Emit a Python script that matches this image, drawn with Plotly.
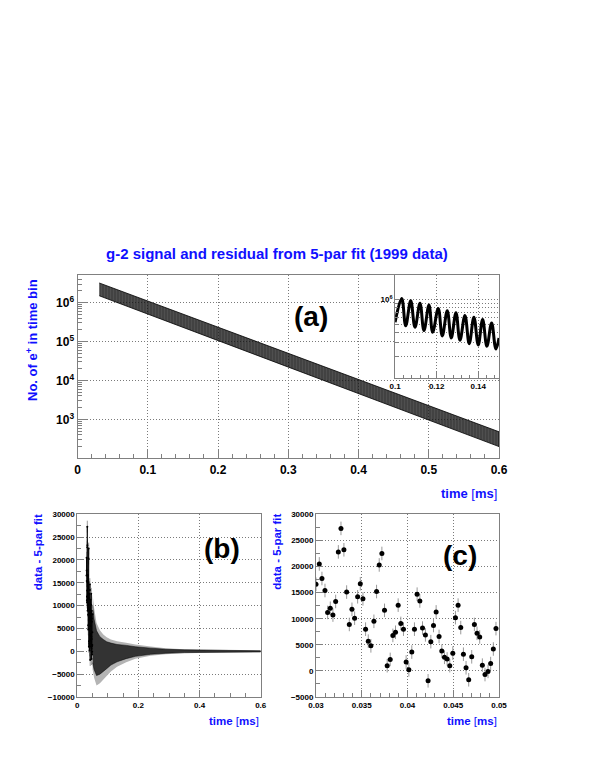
import plotly.graph_objects as go

# ---- (a) main panel: envelope of the oscillating decay band
main_t = [0.031, 0.30, 0.60]
main_hi = [3.2e6, 5.0e4, 4.8e2]
main_lo = [1.5e6, 2.2e4, 2.0e2]

# ---- inset: start, alternating peaks / troughs, end
inset_t = [0.1000, 0.10317, 0.10510, 0.10750, 0.10957, 0.11197, 0.11389, 0.11630,
           0.11808, 0.12077, 0.12269, 0.12510, 0.12702, 0.12928, 0.13120, 0.13361,
           0.13567, 0.13793, 0.14000, 0.14212, 0.14418, 0.14644, 0.14851, 0.1500]
inset_n = [5.3e5, 1.03e6, 4.8e5, 9.7e5, 4.6e5, 9.0e5, 4.2e5, 8.6e5,
           4.0e5, 7.8e5, 3.6e5, 7.3e5, 3.4e5, 6.9e5, 3.2e5, 6.4e5,
           2.9e5, 6.1e5, 2.8e5, 5.7e5, 2.7e5, 5.2e5, 2.5e5, 3.4e5]

# ---- (c) residual points 0.03 - 0.05 ms
res_t = [0.03000, 0.03036, 0.03065, 0.03098, 0.03127, 0.03156, 0.03185, 0.03215, 0.03244,
         0.03273, 0.03305, 0.03335, 0.03364, 0.03393, 0.03422, 0.03455, 0.03484, 0.03513,
         0.03542, 0.03571, 0.03600, 0.03633, 0.03662, 0.03691, 0.03720, 0.03749, 0.03778,
         0.03811, 0.03840, 0.03869, 0.03898, 0.03927, 0.03956, 0.03985, 0.04015, 0.04047,
         0.04076, 0.04105, 0.04135, 0.04164, 0.04196, 0.04225, 0.04255, 0.04284, 0.04313,
         0.04345, 0.04375, 0.04404, 0.04433, 0.04462, 0.04495, 0.04524, 0.04553, 0.04582,
         0.04611, 0.04640, 0.04669, 0.04702, 0.04731, 0.04760, 0.04789, 0.04818, 0.04847,
         0.04880, 0.04909, 0.04938, 0.04967]
res_v = [16600, 20500, 17700, 15400, 11200, 12000, 10700, 13300, 22800,
         27300, 23200, 15100, 8900, 11800, 10100, 14200, 16700, 13800,
         8000, 5700, 4800, 9500, 15200, 20300, 22500, 11600, 1000,
         2200, 6800, 7400, 12600, 9100, 8000, 1700, 200, 3600,
         8000, 14700, 13400, 8200, 6900, -1900, 5600, 8700, 11300,
         6600, 3800, 2600, 2300, 1000, 3400, 10200, 12600, 8300,
         3200, 600, -1700, 2700, 8900, 7200, 6500, 1100, -700,
         -100, 1400, 4200, 8100]
res_err = 1300

# ---- (b) extent of the residual cloud after 0.05 ms
b_t = [0.050, 0.055, 0.063, 0.074, 0.085, 0.096, 0.11, 0.13, 0.16, 0.19, 0.24, 0.29,
       0.35, 0.40, 0.50, 0.60]
b_hi = [10000, 7000, 4500, 3200, 2600, 2100, 1800, 1500, 1300, 1000, 700, 450,
        320, 260, 180, 130]
b_lo = [-2500, -4000, -5300, -5000, -4400, -3800, -3000, -2300, -1600, -1100, -650, -420,
        -280, -220, -170, -130]
b_err_hi = [12500, 9500, 6200, 4600, 3700, 3100, 2600, 2200, 1900, 1500, 1050, 680,
            480, 380, 270, 200]
b_err_lo = [-4000, -5800, -7500, -7000, -6200, -5400, -4400, -3400, -2400, -1650, -980, -640,
            -420, -320, -240, -190]

main_ticks = [1e3, 1e4, 1e5, 1e6]
main_ticktext = ['10<sup>3</sup>', '10<sup>4</sup>', '10<sup>5</sup>', '10<sup>6</sup>']
inset_minor = [2e5, 3e5, 4e5, 5e5, 6e5, 7e5, 8e5, 9e5, 2e6]

W, H = 599, 775
OFF = 8  # the page body margin shifts the figure by this much
FONT = 'Liberation Sans, Arial, sans-serif'
GRAY = '#808080'
GRID = '#7a7a7a'
BLUE = '#1010ff'
DOT = '1px,2px'
TIME = 'time <span style="font-weight:normal">[</span>ms<span style="font-weight:normal">]</span>'


def px_x(x0, x1):
    return [(x0 - OFF) / W, (x1 - OFF) / W]


def px_y(top, bottom):
    return [1 - (bottom - OFF) / H, 1 - (top - OFF) / H]


fig = go.Figure()

# main band
fig.add_trace(go.Scatter(
    x=main_t + main_t[::-1], y=main_hi + main_lo[::-1],
    xaxis='x', yaxis='y', mode='lines', fill='toself',
    line=dict(color='black', width=0.8),
    fillpattern=dict(shape='|', size=3, solidity=0.7, fgcolor='black',
                     bgcolor='rgba(30,30,30,0.65)'),
    hoverinfo='skip', showlegend=False
))

# inset curve
fig.add_trace(go.Scatter(
    x=inset_t, y=inset_n, xaxis='x2', yaxis='y2', mode='lines',
    line=dict(color='black', width=3, shape='spline', smoothing=1.1),
    hoverinfo='skip', showlegend=False
))

# panel b: error extent and point extent
fig.add_trace(go.Scatter(
    x=b_t + b_t[::-1], y=b_err_hi + b_err_lo[::-1], xaxis='x3', yaxis='y3',
    mode='lines', fill='toself', fillcolor='#b4b4b4', line=dict(width=0),
    hoverinfo='skip', showlegend=False
))
fig.add_trace(go.Scatter(
    x=b_t + b_t[::-1], y=b_hi + b_lo[::-1], xaxis='x3', yaxis='y3',
    mode='lines', fill='toself', fillcolor='#333333', line=dict(width=0.5, color='black'),
    hoverinfo='skip', showlegend=False
))
fig.add_trace(go.Scatter(
    x=res_t, y=res_v, xaxis='x3', yaxis='y3', mode='markers+lines',
    marker=dict(color='black', size=2),
    line=dict(color='black', width=0.8),
    error_y=dict(type='constant', value=res_err, color='#999999', thickness=1, width=0),
    hoverinfo='skip', showlegend=False
))

# panel c
fig.add_trace(go.Scatter(
    x=res_t, y=res_v, xaxis='x4', yaxis='y4', mode='markers',
    marker=dict(color='black', size=5),
    error_y=dict(type='constant', value=res_err, color='#999999', thickness=1, width=0),
    cliponaxis=True, hoverinfo='skip', showlegend=False
))

base = dict(showline=True, linecolor=GRAY, linewidth=1, mirror=True,
            ticks='inside', tickcolor=GRAY, tickwidth=1, automargin=False,
            showgrid=True, gridcolor=GRID, griddash=DOT, gridwidth=1,
            zeroline=False)


def bold(size):
    return dict(family=FONT, size=size, color='black', weight='bold')


def minor(**kw):
    d = dict(ticks='inside', tickcolor=GRAY, showgrid=False)
    d.update(kw)
    return d


minor_log = [m * 10 ** e for e in range(2, 7) for m in range(2, 10)]

fig.update_layout(
    width=W, height=H, margin=dict(l=0, r=0, t=0, b=0, autoexpand=False),
    paper_bgcolor='white', plot_bgcolor='white',
    font=dict(family=FONT),
    xaxis=dict(base, domain=px_x(77.5, 499), anchor='y', range=[0, 0.6],
               tick0=0, dtick=0.1, ticklen=9, tickfont=bold(12),
               minor=minor(dtick=0.02, tick0=0, ticklen=4)),
    yaxis=dict(base, domain=px_y(275, 458.3), anchor='x', type='log',
               range=[2.0, 6.71], tickmode='array', tickvals=main_ticks,
               ticktext=main_ticktext, ticklen=9, tickfont=bold(12),
               minor=minor(tickmode='array', tickvals=minor_log, ticklen=4)),
    xaxis2=dict(base, domain=px_x(395.1, 499), anchor='y2', range=[0.1, 0.15],
                tickmode='array', tickvals=[0.1, 0.12, 0.14],
                ticktext=['0.1', '0.12', '0.14'], ticklen=6, tickfont=bold(8),
                minor=minor(dtick=0.004, tick0=0.1, ticklen=3)),
    yaxis2=dict(base, domain=px_y(275, 378.3), anchor='x2', type='log',
                range=[5.04, 6.30], tickmode='array', tickvals=[1e6],
                ticktext=['10<sup>6</sup>'], ticklen=5, tickfont=bold(8),
                minor=minor(tickmode='array', tickvals=inset_minor, ticklen=3,
                            showgrid=True, gridcolor=GRID, griddash=DOT)),
    xaxis3=dict(base, domain=px_x(77.3, 260.7), anchor='y3', range=[0, 0.6],
                tick0=0, dtick=0.2, ticklen=7, tickfont=bold(8),
                minor=minor(dtick=0.05, tick0=0, ticklen=4)),
    yaxis3=dict(base, domain=px_y(514.3, 697), anchor='x3', range=[-10000, 30000],
                tick0=0, dtick=5000, tickformat='d', ticklen=7, tickfont=bold(8),
                minor=minor(dtick=2500, tick0=0, ticklen=4)),
    xaxis4=dict(base, domain=px_x(316, 499), anchor='y4', range=[0.03, 0.05],
                tick0=0.03, dtick=0.005, ticklen=7, tickfont=bold(8),
                minor=minor(dtick=0.001, tick0=0.03, ticklen=4)),
    yaxis4=dict(base, domain=px_y(514.3, 697), anchor='x4', range=[-5000, 30000],
                tick0=0, dtick=5000, tickformat='d', ticklen=7, tickfont=bold(8),
                minor=minor(dtick=2500, tick0=0, ticklen=4)),
)


def note(text, x, y, size, color='black', xanchor='center', angle=0):
    fig.add_annotation(text=text, x=(x - OFF) / W, y=1 - (y - OFF) / H,
                       xref='paper', yref='paper',
                       showarrow=False, xanchor=xanchor, yanchor='middle',
                       textangle=angle,
                       font=dict(family=FONT, size=size, color=color, weight='bold'))


note('g-2 signal and residual from 5-par fit (1999 data)', 277, 254, 15, BLUE)
note('No. of e<sup>+</sup> in time bin', 32, 340, 13, BLUE, angle=-90)
note(TIME, 499, 493, 13, BLUE, xanchor='right')
note('(a)', 311, 316, 28)

note('data - 5-par fit', 38.3, 552, 11.5, BLUE, angle=-90)
note(TIME, 260.7, 721, 11.5, BLUE, xanchor='right')
note('(b)', 221.7, 548, 28)

note('data - 5-par fit', 276.7, 552, 11.5, BLUE, angle=-90)
note(TIME, 499, 721, 11.5, BLUE, xanchor='right')
note('(c)', 460, 555, 28)

fig.write_html("out.html")
